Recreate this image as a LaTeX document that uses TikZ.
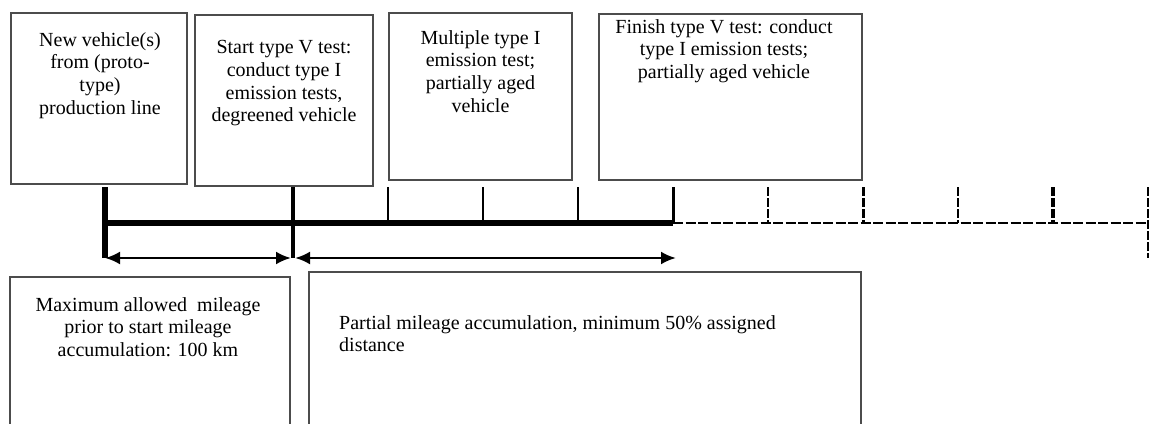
\documentclass[tikz,border=0pt]{standalone}
\usepackage{fontspec}
\setmainfont{Liberation Serif}
\usepackage{tikz}
\usetikzlibrary{arrows.meta}

\tikzset{
  frame/.style={draw=black!70, line width=1.6pt, fill=white, inner sep=0pt},
  lbl/.style={inner sep=0pt, font=\fontsize{20}{22.8}\selectfont, align=center},
  axis/.style={line width=5.5pt},
  span/.style={line width=2.6pt, {Latex[length=15pt,width=13pt]}-{Latex[length=15pt,width=13pt]}},
  dashaxis/.style={dash pattern=on 10pt off 2.5pt},
}

\begin{document}
\begin{tikzpicture}[x=1pt,y=-1pt]
        \useasboundingbox (0,0) rectangle (1155,423);
        \clip (0,0) rectangle (1155,423);
        % boxes above the time line
        \node[frame, minimum width=176pt, minimum height=171pt] (newveh) at (99,98.5) {};
        \node[frame, minimum width=178pt, minimum height=171pt] (startV) at (284,100.5) {};
        \node[frame, minimum width=183pt, minimum height=167pt] (multI) at (480.5,96.5) {};
        \node[frame, minimum width=263pt, minimum height=166pt] (finishV) at (730.5,97) {};
        % boxes below
        \node[frame, minimum width=280pt, minimum height=170pt] (maxkm) at (150,362) {};
        \node[frame, minimum width=552pt, minimum height=175pt] (partial) at (585,359.5) {};
        \node[lbl, anchor=north] (newvehtxt) at (100,32) {New vehicle(s)\\from (proto-\\type)\\production line};
        \node[lbl, anchor=north] (startVtxt) at (284,40) {Start type V test:\\conduct type I\\emission tests,\\degreened vehicle};
        \node[lbl, anchor=north] (multItxt) at (480.5,30) {Multiple type I\\emission test;\\partially aged\\vehicle};
        \node[lbl, anchor=north] (finishVtxt) at (724,19) {Finish type V test: conduct\\type I emission tests;\\partially aged vehicle};
        \node[lbl, anchor=north] (maxkmtxt) at (148,297) {Maximum allowed\ \ mileage\\prior to start mileage\\accumulation: 100 km};
        \node[lbl, anchor=north west, align=left] (partialtxt) at (339,315) {Partial mileage accumulation, minimum 50\% assigned\\distance};
        % time line
        \foreach \n/\x in {0/105,1/293,2/388,3/483,4/578,5/673,6/768,7/863,8/958,9/1053,10/1148}
        {
          \coordinate (t\n) at (\x,223);
          \coordinate (u\n) at (\x,187);
          \coordinate (a\n) at (\x,258);
        }
        \coordinate (a1l) at (291,258);
        \coordinate (a1r) at (295,258);
        \coordinate (a5r) at (676,258);
        \draw[axis] (u0) -- (a0);
        \draw[line width=4.5pt] (u1) -- (a1);
        \draw[axis] (t0) -- (t5);
        \foreach \n/\w in {2/1.5,3/2.5,4/2,5/3}
          \draw[line width=\w pt] (u\n) -- (t\n);
        \draw[line width=2pt, dashaxis] (t5) -- (t10);
        \foreach \n/\w in {6/1.3,7/3,8/1.3,9/3.5}
          \draw[line width=\w pt, dash pattern=on 9pt off 2pt] (u\n) -- (t\n);
        \draw[line width=2.5pt, dash pattern=on 9pt off 2pt] (u10) -- (a10);
        % mileage spans
        \draw[span] (a0) -- (a1l);
        \draw[span] (a1r) -- (a5r);
\end{tikzpicture}
\end{document}
